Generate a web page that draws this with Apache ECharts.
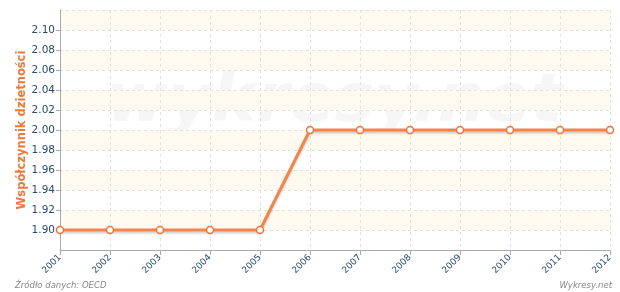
<!DOCTYPE html>
<html><head><meta charset="utf-8">
<script src="https://cdn.jsdelivr.net/npm/echarts@6/dist/echarts.min.js"></script>
<style>html,body{margin:0;padding:0;background:#fff}#c{width:620px;height:292px}</style>
</head><body><div id="c"></div>
<script>
var years = ['2001','2002','2003','2004','2005','2006','2007','2008','2009','2010','2011','2012'];
var fertility = [1.90,1.90,1.90,1.90,1.90,2.00,2.00,2.00,2.00,2.00,2.00,2.00];
var yTitle = 'Współczynnik dzietności';
var sourceText = 'Źródło danych: OECD';
var brandText = 'Wykresy.net';
var watermark = 'wykresy.net';

var chart = echarts.init(document.getElementById('c'), null, {renderer:'canvas'});
chart.setOption({
  animation:false,
  backgroundColor:'#fff',
  grid:{left:60,right:10,top:10,bottom:42,containLabel:false},
  graphic:[
    {type:'text',left:106,top:70,z:0,silent:true,style:{text:watermark,font:'italic bold 67px "DejaVu Sans", sans-serif',fill:'rgba(0,0,0,0.035)'}},
    {type:'text',left:15,top:281,style:{text:sourceText,font:'italic 8.5px "DejaVu Sans", sans-serif',fill:'#888'}},
    {type:'text',right:8,top:281,style:{text:brandText,font:'italic 8.5px "DejaVu Sans", sans-serif',fill:'#888'}}
  ],
  xAxis:{
    type:'category',data:years,boundaryGap:false,
    axisLine:{lineStyle:{color:'#aaa',width:1}},
    axisTick:{show:true,alignWithLabel:true,length:5,lineStyle:{color:'#aaa'}},
    axisLabel:{rotate:45,color:'#2b4a72',fontSize:9,fontFamily:'DejaVu Sans',margin:6,interval:0},
    splitLine:{show:true,lineStyle:{color:'#e2e2e2',type:[3,3]}}
  },
  yAxis:{
    type:'value',min:1.88,max:2.12,interval:0.02,
    name:yTitle,nameLocation:'middle',nameGap:32,nameMoveOverlap:false,
    nameTextStyle:{color:'#f07838',fontWeight:'bold',fontSize:11.5,fontFamily:'DejaVu Sans'},
    axisLine:{show:true,lineStyle:{color:'#aaa',width:1}},
    axisTick:{show:true,length:4,lineStyle:{color:'#aaa'}},
    axisLabel:{color:'#2b4a72',fontSize:10.5,fontFamily:'DejaVu Sans',margin:5,showMinLabel:false,showMaxLabel:false,
      formatter:function(v){return v.toFixed(2);}},
    splitLine:{show:true,lineStyle:{color:'#e2e2e2',type:[3,3]}},
    splitArea:{show:true,areaStyle:{color:['rgba(255,255,255,0)','#fffaf0']}}
  },
  series:[{
    type:'line',data:fertility,
    symbol:'circle',symbolSize:7,showAllSymbol:true,
    lineStyle:{color:'#f5844a',width:3,shadowColor:'rgba(0,0,0,0.18)',shadowBlur:2,shadowOffsetY:2},
    itemStyle:{color:'#fff',borderColor:'#f0733a',borderWidth:1.5},
    z:5
  }]
});
</script></body></html>
